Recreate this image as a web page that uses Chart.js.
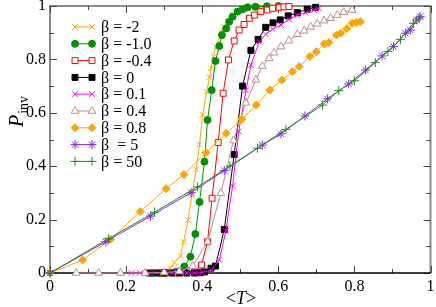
<!DOCTYPE html>
<html>
<head>
<meta charset="utf-8">
<script src="https://cdn.jsdelivr.net/npm/chart.js"></script>
<style>
  html, body { margin: 0; padding: 0; background: #fff; }
  #wrap { width: 436px; height: 307px; }
</style>
</head>
<body>
<div id="wrap"><canvas id="myChart" width="436" height="307"></canvas></div>
<script>
// Dữ liệu: [<T>, P_inv]
const betaM2 = [[0.27,0],[0.285,0.002],[0.30,0.006],[0.316,0.018],[0.327,0.039],[0.343,0.064],[0.351,0.117],[0.363,0.199],[0.373,0.292],[0.384,0.388],[0.393,0.481],[0.401,0.592],[0.412,0.679],[0.419,0.733],[0.423,0.767],[0.430,0.810],[0.436,0.848],[0.449,0.898],[0.458,0.922],[0.467,0.941],[0.480,0.966],[0.490,0.979],[0.51,0.988],[0.53,0.993],[0.56,0.996],[0.59,0.998]];
const betaM1 = [[0.27,0],[0.29,0],[0.305,0.001],[0.332,0.005],[0.353,0.024],[0.369,0.061],[0.382,0.146],[0.393,0.266],[0.406,0.417],[0.414,0.573],[0.425,0.685],[0.435,0.794],[0.445,0.850],[0.452,0.891],[0.463,0.916],[0.471,0.941],[0.480,0.960],[0.493,0.979],[0.506,0.988],[0.519,0.995],[0.54,0.997],[0.57,0.999],[0.60,1.0]];
const betaM04 = [[0.30,0],[0.33,0],[0.353,0.001],[0.380,0.004],[0.398,0.030],[0.414,0.117],[0.426,0.280],[0.442,0.489],[0.455,0.673],[0.469,0.798],[0.484,0.869],[0.497,0.910],[0.510,0.931],[0.524,0.954],[0.537,0.966],[0.554,0.979],[0.571,0.985],[0.585,0.991],[0.602,0.995],[0.615,0.997],[0.628,0.998]];
const beta0 = [[0.26,0],[0.28,0],[0.30,0],[0.32,0],[0.34,0],[0.36,0],[0.38,0],[0.395,0.001],[0.406,0.004],[0.423,0.018],[0.435,0.026],[0.458,0.163],[0.484,0.444],[0.506,0.700],[0.528,0.834],[0.547,0.875],[0.567,0.920],[0.586,0.937],[0.605,0.948],[0.626,0.963],[0.650,0.975],[0.676,0.988],[0.698,0.995]];
const beta01 = [[0.214,0],[0.236,0],[0.26,0],[0.28,0],[0.30,0],[0.32,0],[0.34,0],[0.36,0],[0.38,0],[0.40,0.002],[0.424,0.011],[0.445,0.049],[0.462,0.157],[0.480,0.326],[0.496,0.530],[0.515,0.684],[0.528,0.779],[0.550,0.866],[0.567,0.894],[0.585,0.913],[0.607,0.929],[0.628,0.950],[0.650,0.966],[0.672,0.975],[0.694,0.985],[0.707,0.991]];
const beta04 = [[0.069,0],[0.128,0],[0.185,0],[0.25,0],[0.30,0.002],[0.34,0.006],[0.375,0.026],[0.414,0.117],[0.449,0.299],[0.482,0.496],[0.515,0.637],[0.541,0.723],[0.558,0.775],[0.576,0.804],[0.589,0.825],[0.607,0.848],[0.628,0.870],[0.650,0.894],[0.668,0.907],[0.685,0.922],[0.702,0.933],[0.720,0.945],[0.737,0.954],[0.755,0.966],[0.772,0.977],[0.794,0.985]];
const beta08 = [[0,0],[0.086,0.049],[0.159,0.126],[0.237,0.230],[0.305,0.316],[0.352,0.369],[0.410,0.451],[0.463,0.523],[0.504,0.576],[0.542,0.629],[0.578,0.685],[0.610,0.723],[0.637,0.754],[0.655,0.773],[0.683,0.811],[0.700,0.829],[0.721,0.858],[0.733,0.863],[0.753,0.891],[0.764,0.898],[0.780,0.915],[0.794,0.935],[0.805,0.938],[0.816,0.941]];
const beta5 = [[0,0],[0.147,0.117],[0.264,0.213],[0.371,0.301],[0.458,0.384],[0.558,0.479],[0.607,0.521],[0.670,0.588],[0.729,0.652],[0.785,0.708],[0.829,0.760],[0.873,0.813],[0.903,0.848],[0.934,0.898],[0.947,0.910],[0.964,0.948],[0.973,0.960]];
const beta50 = [[0,0],[0.153,0.128],[0.275,0.228],[0.388,0.323],[0.473,0.401],[0.545,0.467],[0.620,0.538],[0.716,0.629],[0.759,0.683],[0.800,0.720],[0.855,0.788],[0.888,0.830],[0.921,0.875],[0.955,0.935],[0.970,0.955]];

const seriesLabels = ['β = -2', 'β = -1.0', 'β = -0.4', 'β = 0', 'β = 0.1', 'β = 0.4', 'β = 0.8', 'β  = 5', 'β = 50'];
const xTicks = [0, 0.2, 0.4, 0.6, 0.8, 1];
const yTicks = [0, 0.2, 0.4, 0.6, 0.8, 1];

const FONT = '"Liberation Serif", "DejaVu Serif", serif';

// Kiểu của từng đường
const styles = [
    { data: betaM2, color: '#FFA500', fill: '#FFA500', point: 'crossRot', r: 4 },
    { data: betaM1, color: '#009100', fill: '#009100', point: 'circle', r: 3.5 },
    { data: betaM04, color: '#FF0000', fill: '#FFFFFF', point: 'rect', r: 4.2 },
    { data: beta0, color: '#000000', fill: '#000000', point: 'rect', r: 4.2 },
    { data: beta01, color: '#FF00FF', fill: '#FF00FF', point: 'crossRot', r: 4 },
    { data: beta04, color: '#BC8F8F', fill: '#FFFFFF', point: 'triangle', r: 4.5 },
    { data: beta08, color: '#FFA500', fill: '#FFA500', point: 'rectRot', r: 4 },
    { data: beta5, color: '#8A2BE2', fill: '#8A2BE2', point: 'star', r: 4.5 },
    { data: beta50, color: '#228B22', fill: '#228B22', point: 'cross', r: 4.5 }
];

function toPoints(arr) {
    return arr.map(p => ({ x: p[0], y: p[1] }));
}

const datasets = styles.map((s, i) => ({
    label: seriesLabels[i],
    data: toPoints(s.data),
    showLine: true,
    borderColor: s.color,
    backgroundColor: s.fill,
    borderWidth: 1,
    pointStyle: s.point,
    pointRadius: s.r,
    pointBorderWidth: 1,
    pointBorderColor: s.color,
    pointBackgroundColor: s.fill,
    clip: false,
    order: styles.length - i
}));

// Khung, vạch chia hướng vào trong, chú thích và tên trục
const framePlugin = {
    id: 'frame',
    beforeDatasetsDraw(chart) {
        const ctx = chart.ctx;
        const a = chart.chartArea;
        const xs = chart.scales.x;
        const ys = chart.scales.y;
        ctx.save();
        ctx.strokeStyle = '#8a8a8a';
        ctx.lineWidth = 2;
        ctx.beginPath();
        ctx.moveTo(a.left, a.bottom);
        ctx.lineTo(a.left, a.top);
        ctx.lineTo(a.right, a.top);
        ctx.lineTo(a.right, a.bottom);
        ctx.stroke();

        ctx.strokeStyle = '#444';
        ctx.lineWidth = 1;
        for (let k = 0; k <= 10; k++) {
            const v = k / 10;
            const len = k % 2 === 0 ? 7 : 4;
            const px = Math.round(xs.getPixelForValue(v)) + 0.5;
            const py = Math.round(ys.getPixelForValue(v)) + 0.5;
            ctx.beginPath();
            ctx.moveTo(px, a.bottom); ctx.lineTo(px, a.bottom - len);
            ctx.moveTo(px, a.top); ctx.lineTo(px, a.top + len);
            ctx.moveTo(a.left, py); ctx.lineTo(a.left + len, py);
            ctx.moveTo(a.right, py); ctx.lineTo(a.right - len, py);
            ctx.stroke();
        }

        ctx.strokeStyle = '#000';
        ctx.lineWidth = 1.5;
        ctx.beginPath();
        ctx.moveTo(a.left, a.bottom);
        ctx.lineTo(a.right, a.bottom);
        ctx.stroke();
        ctx.restore();
    },
    afterDraw(chart) {
        const ctx = chart.ctx;
        const drawPoint = Chart.helpers && Chart.helpers.drawPoint;
        ctx.save();

        // chú thích
        styles.forEach((s, i) => {
            const y = 27 + i * 16.8;
            ctx.strokeStyle = s.color;
            ctx.fillStyle = s.fill;
            ctx.lineWidth = 1;
            ctx.beginPath();
            ctx.moveTo(75, y);
            ctx.lineTo(92, y);
            ctx.stroke();
            [75, 92].forEach(px => {
                if (drawPoint) {
                    drawPoint(ctx, { pointStyle: s.point, radius: s.r, rotation: 0, borderWidth: 1 }, px, y);
                } else {
                    ctx.beginPath();
                    ctx.arc(px, y, s.r, 0, Math.PI * 2);
                    ctx.fill();
                    ctx.stroke();
                }
            });
            ctx.fillStyle = '#000';
            ctx.font = '16px ' + FONT;
            ctx.textAlign = 'left';
            ctx.textBaseline = 'middle';
            ctx.fillText(seriesLabels[i], 101, y + 1);
        });

        // tên trục x: <T>
        ctx.fillStyle = '#000';
        ctx.textBaseline = 'alphabetic';
        ctx.textAlign = 'left';
        ctx.font = '18px ' + FONT;
        const w1 = ctx.measureText('<').width;
        ctx.font = 'italic 18px ' + FONT;
        const w2 = ctx.measureText('T').width;
        ctx.font = '18px ' + FONT;
        const w3 = ctx.measureText('>').width;
        let x0 = 241 - (w1 + w2 + w3) / 2;
        const yb = 304;
        ctx.fillText('<', x0, yb);
        ctx.font = 'italic 18px ' + FONT;
        ctx.fillText('T', x0 + w1, yb);
        ctx.font = '18px ' + FONT;
        ctx.fillText('>', x0 + w1 + w2, yb);

        // tên trục y: P_inv
        ctx.translate(23, 127);
        ctx.rotate(-Math.PI / 2);
        ctx.font = 'italic 20px ' + FONT;
        ctx.fillText('P', 0, 0);
        const pw = ctx.measureText('P').width;
        ctx.font = '14px ' + FONT;
        ctx.fillText('inv', pw + 1, 5);
        ctx.restore();
    }
};

function fixWidth(w) {
    return function (scale) {
        scale.width = w;
        scale.paddingTop = 0;
        scale.paddingBottom = 0;
    };
}

function fixHeight(h) {
    return function (scale) {
        scale.height = h;
        scale.paddingLeft = 0;
        scale.paddingRight = 0;
    };
}

const ctx = document.getElementById('myChart').getContext('2d');
new Chart(ctx, {
    type: 'scatter',
    data: { datasets: datasets },
    options: {
        responsive: false,
        animation: false,
        events: [],
        layout: { padding: { left: 0, right: 4, top: 6, bottom: 0 } },
        plugins: {
            legend: { display: false },
            tooltip: { enabled: false }
        },
        scales: {
            x: {
                type: 'linear',
                min: 0,
                max: 1,
                afterBuildTicks: axis => { axis.ticks = xTicks.map(v => ({ value: v })); },
                afterFit: fixHeight(34),
                grid: { display: false, drawTicks: false },
                border: { display: false },
                ticks: {
                    padding: 4,
                    color: '#000',
                    maxRotation: 0,
                    callback: v => String(v),
                    font: { family: FONT, size: 16 }
                }
            },
            y: {
                type: 'linear',
                min: 0,
                max: 1,
                afterBuildTicks: axis => { axis.ticks = yTicks.map(v => ({ value: v })); },
                afterFit: fixWidth(50),
                grid: { display: false, drawTicks: false },
                border: { display: false },
                ticks: {
                    padding: 4,
                    color: '#000',
                    callback: v => String(v),
                    font: { family: FONT, size: 16 }
                }
            }
        }
    },
    plugins: [framePlugin]
});
</script>
</body>
</html>
